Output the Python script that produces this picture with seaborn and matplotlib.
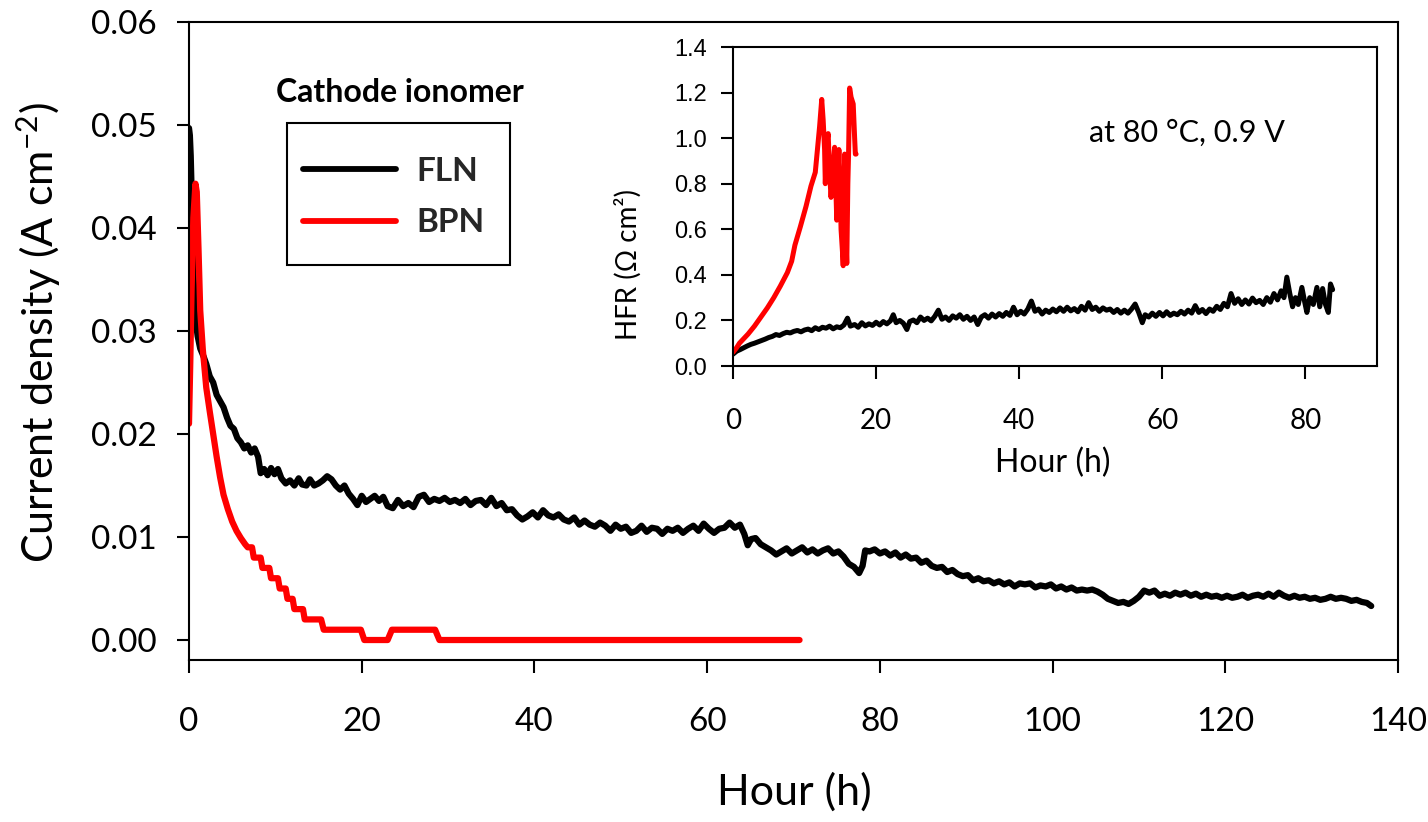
import matplotlib
matplotlib.use("Agg")
import matplotlib.pyplot as plt
import numpy as np
import pandas as pd
import seaborn as sns
from matplotlib.lines import Line2D
from matplotlib.patches import Rectangle

# ---------------- main plot data: current density vs hour ----------------
fln_hour = [0.0, 0.1, 0.2, 0.35, 0.5, 0.7, 1.0, 1.3, 1.7, 2.0, 2.4, 2.8, 3.2, 3.6, 4.0, 4.4, 4.8, 5.2, 5.6, 6.0,
            6.4, 6.8, 7.2, 7.6, 8.0, 8.3, 8.7, 9.1, 9.5, 9.9, 10.3, 10.7, 11.2, 11.7, 12.2, 12.7, 13.1, 13.6, 14.0,
            14.5, 15.0, 15.5, 16.0, 16.5, 17.0, 17.5, 18.0, 18.5, 19.0, 19.5, 20.0, 20.5, 21.0, 21.5, 22.0, 22.5,
            23.0, 23.6, 24.2, 24.8, 25.4, 26.0, 26.6, 27.2, 27.8, 28.4, 29.0, 29.6, 30.2, 30.8, 31.4, 32.0, 32.6,
            33.2, 33.8, 34.4, 35.0, 35.6, 36.2, 36.8, 37.4, 38.0, 38.6, 39.2, 39.8, 40.4, 41.0, 41.6, 42.2, 42.8,
            43.4, 44.0, 44.6, 45.2, 45.8, 46.4, 47.0, 47.6, 48.2, 48.8, 49.4, 50.0, 50.6, 51.2, 51.8, 52.4, 53.0,
            53.6, 54.2, 54.8, 55.4, 56.0, 56.6, 57.2, 57.8, 58.4, 59.0, 59.6, 60.2, 60.8, 61.4, 62.0, 62.6, 63.2,
            63.8, 64.3, 64.7, 65.1, 65.6, 66.2, 66.8, 67.4, 68.0, 68.6, 69.2, 69.8, 70.4, 71.0, 71.6, 72.2, 72.8,
            73.4, 74.0, 74.6, 75.2, 75.8, 76.4, 77.0, 77.6, 78.0, 78.3, 78.8, 79.4, 80.0, 80.6, 81.2, 81.8, 82.4,
            83.0, 83.6, 84.2, 84.8, 85.4, 86.0, 86.6, 87.2, 87.8, 88.4, 89.0, 89.6, 90.2, 90.8, 91.4, 92.0, 92.6,
            93.2, 93.8, 94.4, 95.0, 95.6, 96.2, 96.8, 97.4, 98.0, 98.6, 99.2, 99.8, 100.4, 101.0, 101.6, 102.2,
            102.8, 103.4, 104.0, 104.6, 105.2, 105.8, 106.4, 107.0, 107.6, 108.2, 108.8, 109.4, 110.0, 110.6,
            111.2, 111.8, 112.4, 113.0, 113.6, 114.2, 114.8, 115.4, 116.0, 116.6, 117.2, 117.8, 118.4, 119.0,
            119.6, 120.2, 120.8, 121.4, 122.0, 122.6, 123.2, 123.8, 124.4, 125.0, 125.6, 126.2, 126.8, 127.4,
            128.0, 128.6, 129.2, 129.8, 130.4, 131.0, 131.6, 132.2, 132.8, 133.4, 134.0, 134.6, 135.2, 135.8,
            136.4, 136.9]
fln_current = [0.0497, 0.0490, 0.0470, 0.0420, 0.0360, 0.0315, 0.0295, 0.0283, 0.0275, 0.0268, 0.0256, 0.0250,
               0.0238, 0.0232, 0.0226, 0.0216, 0.0208, 0.0205, 0.0196, 0.0192, 0.0186, 0.0189, 0.0182, 0.0186,
               0.0178, 0.0162, 0.0166, 0.0160, 0.0167, 0.0161, 0.0166, 0.0157, 0.0152, 0.0155, 0.0150, 0.0157,
               0.0151, 0.0150, 0.0156, 0.0150, 0.0152, 0.0155, 0.0159, 0.0156, 0.0150, 0.0146, 0.0150, 0.0142,
               0.0137, 0.0131, 0.0140, 0.0134, 0.0137, 0.0140, 0.0135, 0.0139, 0.0130, 0.0128, 0.0136, 0.0130,
               0.0133, 0.0129, 0.0139, 0.0141, 0.0134, 0.0137, 0.0135, 0.0138, 0.0134, 0.0136, 0.0133, 0.0137,
               0.0131, 0.0135, 0.0136, 0.0131, 0.0138, 0.0130, 0.0133, 0.0126, 0.0127, 0.0121, 0.0117, 0.0120,
               0.0124, 0.0119, 0.0126, 0.0121, 0.0119, 0.0122, 0.0117, 0.0115, 0.0119, 0.0112, 0.0116, 0.0112,
               0.0110, 0.0114, 0.0111, 0.0106, 0.0112, 0.0108, 0.0110, 0.0104, 0.0106, 0.0111, 0.0105, 0.0109,
               0.0108, 0.0103, 0.0108, 0.0106, 0.0109, 0.0104, 0.0108, 0.0111, 0.0106, 0.0113, 0.0108, 0.0104,
               0.0108, 0.0109, 0.0114, 0.0109, 0.0112, 0.0103, 0.0092, 0.0098, 0.0099, 0.0093, 0.0090, 0.0087,
               0.0083, 0.0086, 0.0089, 0.0084, 0.0087, 0.0090, 0.0085, 0.0088, 0.0084, 0.0087, 0.0089, 0.0084,
               0.0086, 0.0081, 0.0074, 0.0071, 0.0065, 0.0072, 0.0087, 0.0086, 0.0088, 0.0084, 0.0086, 0.0082,
               0.0085, 0.0080, 0.0083, 0.0079, 0.0080, 0.0075, 0.0077, 0.0072, 0.0070, 0.0071, 0.0066, 0.0068,
               0.0064, 0.0062, 0.0063, 0.0058, 0.0060, 0.0057, 0.0058, 0.0055, 0.0057, 0.0054, 0.0056, 0.0052,
               0.0055, 0.0054, 0.0055, 0.0051, 0.0053, 0.0052, 0.0054, 0.0050, 0.0052, 0.0049, 0.0051, 0.0048,
               0.0049, 0.0048, 0.0049, 0.0047, 0.0044, 0.0040, 0.0038, 0.0036, 0.0037, 0.0035, 0.0038, 0.0042,
               0.0048, 0.0046, 0.0048, 0.0043, 0.0045, 0.0043, 0.0046, 0.0044, 0.0046, 0.0043, 0.0045, 0.0042,
               0.0044, 0.0042, 0.0043, 0.0041, 0.0043, 0.0041, 0.0042, 0.0044, 0.0041, 0.0043, 0.0044, 0.0042,
               0.0045, 0.0042, 0.0046, 0.0043, 0.0041, 0.0043, 0.0041, 0.0042, 0.0040, 0.0041, 0.0039, 0.0040,
               0.0042, 0.0040, 0.0041, 0.0040, 0.0038, 0.0039, 0.0037, 0.0036, 0.0033]

bpn_hour = [0.0, 0.15, 0.3, 0.5, 0.75, 0.9, 1.1, 1.3, 1.6, 2.0, 2.4, 2.8, 3.2, 3.6, 4.0, 4.5, 5.0, 5.5, 6.0, 6.5,
            6.8, 7.3, 7.5, 8.3, 8.5, 9.3, 9.5, 10.3, 10.5, 11.2, 11.4, 12.0, 12.2, 13.2, 13.4, 15.3, 15.6, 19.9,
            20.3, 23.0, 23.5, 28.5, 29.0, 70.7]
bpn_current = [0.0210, 0.0270, 0.0340, 0.0410, 0.0443, 0.0435, 0.0380, 0.0320, 0.0282, 0.0245, 0.0222, 0.0200,
               0.0178, 0.0158, 0.0141, 0.0127, 0.0115, 0.0106, 0.0099, 0.0093, 0.0090, 0.0090, 0.0080, 0.0080,
               0.0070, 0.0070, 0.0060, 0.0060, 0.0050, 0.0050, 0.0040, 0.0040, 0.0030, 0.0030, 0.0020, 0.0020,
               0.0010, 0.0010, 0.0, 0.0, 0.0010, 0.0010, 0.0, 0.0]

# ---------------- inset data: HFR vs hour ----------------
fln_hfr_hour = [0.0, 0.5, 1.0, 1.5, 2.0, 2.5, 3.0, 3.5, 4.0, 4.5, 5.0, 5.5, 6.0, 6.5, 7.0, 7.5, 8.0, 8.5, 9.0, 9.5,
                10.0, 10.5, 11.0, 11.5, 12.0, 12.5, 13.0, 13.5, 14.0, 14.5, 15.0, 15.5, 16.0, 16.4, 17.0, 17.5,
                18.0, 18.5, 19.0, 19.5, 20.0, 20.5, 21.0, 21.5, 22.0, 22.4, 22.8, 23.3, 23.8, 24.3, 24.7, 25.2,
                25.7, 26.2, 26.7, 27.2, 27.7, 28.2, 28.7, 29.2, 29.7, 30.2, 30.7, 31.2, 31.7, 32.2, 32.7, 33.2,
                33.7, 34.2, 34.7, 35.2, 35.7, 36.2, 36.7, 37.2, 37.7, 38.2, 38.7, 39.2, 39.7, 40.2, 40.7, 41.2,
                41.7, 42.2, 42.7, 43.2, 43.7, 44.2, 44.7, 45.2, 45.7, 46.2, 46.7, 47.2, 47.7, 48.2, 48.7, 49.2,
                49.7, 50.2, 50.7, 51.2, 51.7, 52.2, 52.7, 53.2, 53.7, 54.2, 54.7, 55.2, 55.7, 56.2, 56.7, 57.2,
                57.6, 58.1, 58.6, 59.1, 59.6, 60.1, 60.6, 61.1, 61.6, 62.1, 62.6, 63.1, 63.6, 64.1, 64.6, 65.1,
                65.6, 66.1, 66.6, 67.1, 67.6, 68.1, 68.6, 69.1, 69.6, 70.1, 70.6, 71.1, 71.6, 72.1, 72.6, 73.1,
                73.6, 74.1, 74.6, 75.1, 75.6, 76.1, 76.6, 77.0, 77.4, 77.8, 78.2, 78.6, 79.0, 79.5, 79.9, 80.2,
                80.6, 81.1, 81.6, 82.0, 82.4, 82.8, 83.2, 83.5, 83.8]
fln_hfr = [0.052, 0.065, 0.072, 0.080, 0.088, 0.095, 0.100, 0.106, 0.112, 0.118, 0.125, 0.130, 0.138, 0.134, 0.142,
           0.148, 0.145, 0.152, 0.156, 0.150, 0.158, 0.162, 0.155, 0.168, 0.160, 0.170, 0.166, 0.175, 0.163, 0.172,
           0.168, 0.180, 0.210, 0.175, 0.182, 0.170, 0.190, 0.176, 0.185, 0.178, 0.192, 0.180, 0.195, 0.185, 0.198,
           0.225, 0.190, 0.200, 0.188, 0.160, 0.195, 0.202, 0.190, 0.215, 0.200, 0.210, 0.198, 0.218, 0.245, 0.205,
           0.215, 0.200, 0.220, 0.210, 0.225, 0.205, 0.218, 0.200, 0.215, 0.182, 0.215, 0.225, 0.210, 0.228, 0.215,
           0.230, 0.218, 0.235, 0.222, 0.258, 0.225, 0.240, 0.228, 0.250, 0.285, 0.240, 0.250, 0.228, 0.245, 0.235,
           0.250, 0.238, 0.255, 0.240, 0.258, 0.242, 0.252, 0.238, 0.262, 0.245, 0.278, 0.248, 0.258, 0.240, 0.255,
           0.245, 0.250, 0.235, 0.248, 0.232, 0.245, 0.232, 0.250, 0.272, 0.235, 0.190, 0.225, 0.215, 0.232, 0.218,
           0.235, 0.220, 0.238, 0.222, 0.232, 0.225, 0.240, 0.228, 0.245, 0.232, 0.265, 0.235, 0.248, 0.230, 0.250,
           0.240, 0.262, 0.248, 0.275, 0.260, 0.318, 0.275, 0.295, 0.270, 0.290, 0.272, 0.298, 0.278, 0.288, 0.270,
           0.300, 0.280, 0.318, 0.290, 0.330, 0.300, 0.390, 0.320, 0.260, 0.300, 0.270, 0.345, 0.280, 0.235, 0.300,
           0.270, 0.345, 0.260, 0.340, 0.270, 0.235, 0.360, 0.335]

bpn_hfr_hour = [0.0, 0.5, 0.9, 1.5, 2.1, 3.0, 3.9, 4.8, 5.7, 6.6, 7.6, 8.2, 8.65, 9.4, 10.2, 10.9, 11.5, 11.8, 12.1,
                12.4, 12.6, 12.8, 12.9, 13.1, 13.3, 13.5, 13.7, 14.0, 14.2, 14.4, 14.5, 14.7, 14.8, 15.0, 15.1,
                15.3, 15.4, 15.5, 15.6, 15.75, 15.9, 16.05, 16.15, 16.3, 16.5, 16.8, 17.0, 17.1, 17.2]
bpn_hfr = [0.06, 0.08, 0.10, 0.12, 0.14, 0.175, 0.215, 0.255, 0.30, 0.35, 0.41, 0.46, 0.53, 0.61, 0.70, 0.79, 0.85,
           0.95, 1.05, 1.17, 1.08, 0.95, 0.80, 0.98, 1.02, 0.85, 0.74, 0.88, 0.96, 0.75, 0.64, 0.85, 0.95, 0.75,
           0.60, 0.50, 0.44, 0.70, 0.93, 0.60, 0.45, 0.80, 0.93, 1.22, 1.18, 1.15, 1.00, 0.93, 0.93]

series_names = ["FLN", "BPN"]
series_colors = {"FLN": "#000000", "BPN": "#ff0000"}
main_xticks = [0, 20, 40, 60, 80, 100, 120, 140]
main_yticks = [0.00, 0.01, 0.02, 0.03, 0.04, 0.05, 0.06]
inset_xticks = [0, 20, 40, 60, 80]
inset_yticks = [0.0, 0.2, 0.4, 0.6, 0.8, 1.0, 1.2, 1.4]

main_df = pd.DataFrame({
    "Hour": fln_hour + bpn_hour,
    "J": fln_current + bpn_current,
    "Ionomer": ["FLN"] * len(fln_hour) + ["BPN"] * len(bpn_hour),
})
inset_df = pd.DataFrame({
    "Hour": fln_hfr_hour + bpn_hfr_hour,
    "HFR": fln_hfr + bpn_hfr,
    "Ionomer": ["FLN"] * len(fln_hfr_hour) + ["BPN"] * len(bpn_hfr_hour),
})

# ---------------- style ----------------
sns.set_theme(style="ticks")
plt.rcParams["font.family"] = ["Lato", "DejaVu Sans"]
plt.rcParams["mathtext.fontset"] = "custom"
plt.rcParams["mathtext.rm"] = "Lato"
plt.rcParams["mathtext.it"] = "Lato:italic"
plt.rcParams["mathtext.bf"] = "Lato:bold"
plt.rcParams["mathtext.default"] = "regular"

W, H = 1428, 822
fig = plt.figure(figsize=(W / 100, H / 100), dpi=100)
fig.patch.set_facecolor("white")


def fbox(l, t, r, b):
    return [l / W, 1 - b / H, (r - l) / W, (b - t) / H]


# ---------------- main axes ----------------
ax = fig.add_axes(fbox(189, 22, 1398, 660))
sns.lineplot(data=main_df, x="Hour", y="J", hue="Ionomer", hue_order=series_names,
             palette=series_colors, estimator=None, sort=False, linewidth=4.5,
             legend=False, ax=ax, solid_capstyle="round", solid_joinstyle="round")
ax.set_xlim(0, 140)
ax.set_ylim(-0.00194, 0.06)
ax.set_xticks(main_xticks)
ax.set_yticks(main_yticks)
ax.set_xticklabels([str(v) for v in main_xticks])
ax.set_yticklabels([f"{v:.2f}" for v in main_yticks])
for s in ax.spines.values():
    s.set_linewidth(1.5)
    s.set_color("black")
ax.tick_params(axis="both", direction="out", length=9, width=1.5, color="black",
               labelsize=24, labelcolor="black", top=False, right=False)
ax.tick_params(axis="y", pad=14)
ax.tick_params(axis="x", pad=25)
ax.set_xlabel("Hour (h)", fontsize=31, color="black")
ax.set_ylabel("Current density (A cm$^{-2}$)", fontsize=31, color="black")
ax.xaxis.set_label_coords(0.501, -0.176)
ax.yaxis.set_label_coords(-0.104, 0.513)
ax.set_facecolor("white")

# legend
handles = [Line2D([], [], color=series_colors[n], lw=4.2, solid_capstyle="round") for n in series_names]
leg = ax.legend(handles, series_names, loc="center left", bbox_to_anchor=(303 / W, 1 - 197 / H),
                bbox_transform=fig.transFigure, borderaxespad=0, borderpad=0, frameon=False,
                prop={"weight": "bold", "size": 24}, handlelength=2.8, handletextpad=0.6,
                labelspacing=0.68)
fig.patches.append(Rectangle((287 / W, 1 - 265 / H), 223 / W, 142 / H, transform=fig.transFigure,
                             fill=False, edgecolor="black", linewidth=1.5))
fig.text(400 / W, 1 - 92 / H, "Cathode ionomer", ha="center", va="center", fontsize=23,
         fontweight="bold", color="black")

# ---------------- inset axes ----------------
ins = fig.add_axes(fbox(733, 47, 1377, 366))
sns.lineplot(data=inset_df, x="Hour", y="HFR", hue="Ionomer", hue_order=series_names,
             palette=series_colors, estimator=None, sort=False, linewidth=3.6,
             legend=False, ax=ins, solid_capstyle="round", solid_joinstyle="round")
ins.set_xlim(0, 90)
ins.set_ylim(0, 1.4)
ins.set_xticks(inset_xticks)
ins.set_yticks(inset_yticks)
ins.set_xticklabels([str(v) for v in inset_xticks])
ins.set_yticklabels([f"{v:.1f}" for v in inset_yticks], family=["Liberation Sans", "DejaVu Sans"])
for s in ins.spines.values():
    s.set_linewidth(1.5)
    s.set_color("black")
ins.tick_params(axis="both", direction="out", length=9, width=1.5, color="black",
                labelsize=17, labelcolor="black", top=False, right=False)
ins.tick_params(axis="y", pad=10)
ins.tick_params(axis="x", labelsize=20, pad=21)
ins.set_xlabel("Hour (h)", fontsize=23, color="black")
ins.set_ylabel("HFR (Ω cm²)", fontsize=20, color="black", family=["Lato", "DejaVu Sans"])
ins.xaxis.set_label_coords(0.497, -0.257)
ins.yaxis.set_label_coords(-0.141, 0.317)
ins.text(0.705, 0.73, "at 80 °C, 0.9 V", transform=ins.transAxes, ha="center", va="center",
         fontsize=22, color="black")
ins.set_facecolor("white")

fig.savefig("out.png", dpi=100, facecolor="white")
